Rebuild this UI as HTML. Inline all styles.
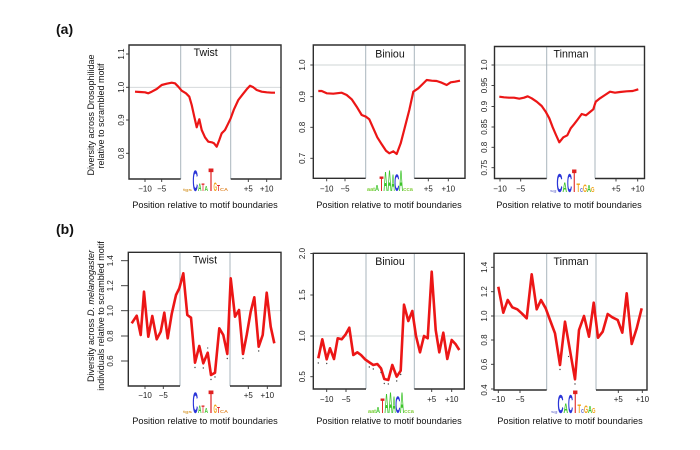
<!DOCTYPE html>
<html><head><meta charset="utf-8"><style>
html,body{margin:0;padding:0;background:#fff;}
svg{display:block;font-family:"Liberation Sans",Arial,sans-serif;}
.bx{fill:none;stroke:#2e2e2e;stroke-width:1.4;}
.gl{stroke:#cfd4d6;stroke-width:0.9;}
.bl{stroke:#a9b5bd;stroke-width:1;}
.tk{stroke:#333;stroke-width:0.9;}
.c1{fill:none;stroke:#ec1616;stroke-width:2.2;stroke-linejoin:round;}
.c2{fill:none;stroke:#ec1616;stroke-width:2.6;stroke-linejoin:round;}
.tl{font-size:8px;fill:#222;text-anchor:middle;}
.xl{font-size:9.2px;fill:#111;text-anchor:middle;}
.yl{font-size:9px;fill:#111;text-anchor:middle;}
.tt{font-size:10.6px;fill:#111;text-anchor:middle;}
.lg text{font-weight:bold;}
</style></head><body>
<svg width="700" height="450" viewBox="0 0 700 450" xmlns="http://www.w3.org/2000/svg">
<rect width="700" height="450" fill="#fff"/>
<text x="56" y="34" font-size="14" font-weight="bold" fill="#111">(a)</text>
<text x="56" y="234" font-size="14" font-weight="bold" fill="#111">(b)</text>

<!-- Y labels row a -->
<text class="yl" transform="translate(94,115) rotate(-90)">Diversity across Drosophilidae</text>
<text class="yl" transform="translate(104,116) rotate(-90)">relative to scrambled motif</text>
<!-- Y labels row b -->
<text class="yl" transform="translate(94,316) rotate(-90)">Diversity across <tspan font-style="italic">D. melanogaster</tspan></text>
<text class="yl" transform="translate(104,316) rotate(-90)">individuals relative to scrambled motif</text>

<!-- ===== Twist (a) ===== -->
<line class="gl" x1="129" y1="87.3" x2="281" y2="87.3"/>
<line class="bl" x1="180.7" y1="45" x2="180.7" y2="179"/>
<line class="bl" x1="230.7" y1="45" x2="230.7" y2="179"/>
<path class="bx" d="M180.7,179 H129 V45 H281 V179 H230.7"/>
<text class="tt" x="205.7" y="56">Twist</text>
<g class="tk"><line x1="129" y1="54" x2="126" y2="54"/><line x1="129" y1="87.3" x2="126" y2="87.3"/><line x1="129" y1="120" x2="126" y2="120"/><line x1="129" y1="153.3" x2="126" y2="153.3"/>
<line x1="145" y1="179" x2="145" y2="182"/><line x1="161.7" y1="179" x2="161.7" y2="182"/><line x1="248.3" y1="179" x2="248.3" y2="182"/><line x1="266.7" y1="179" x2="266.7" y2="182"/></g>
<g class="tl"><text transform="translate(124,54) rotate(-90)">1.1</text><text transform="translate(124,87.3) rotate(-90)">1.0</text><text transform="translate(124,120) rotate(-90)">0.9</text><text transform="translate(124,153.3) rotate(-90)">0.8</text>
<text x="145" y="191.5">−10</text><text x="161.7" y="191.5">−5</text><text x="248.3" y="191.5">+5</text><text x="266.7" y="191.5">+10</text></g>
<polyline class="c1" points="135,91.7 140,92 145,92.3 148.3,93.3 151.7,91.7 156.7,89 161.7,85 166.7,83.7 171.7,82.7 175,83.3 178.3,86.7 181.7,90.7 186,93.3 189.3,96.7 191.7,105 194.3,116.7 196.7,127.3 199.3,119.3 201.7,130 205,137.3 208.3,141.7 211.7,142.3 214,143.3 216.7,146.7 219.3,140 221.7,133.3 225,130 228.3,123.3 230.7,118.3 234,109.3 238.3,100 242.7,94.3 246.7,89.3 250,85.7 253.3,87.3 256.7,90 261.7,91.7 266.7,92.3 271.7,92.7 275,92.7"/>
<text class="xl" x="205" y="208">Position relative to motif boundaries</text>

<!-- ===== Biniou (a) ===== -->
<line class="gl" x1="313.3" y1="65" x2="465" y2="65"/>
<line class="bl" x1="365.7" y1="45" x2="365.7" y2="178.3"/>
<line class="bl" x1="414.3" y1="45" x2="414.3" y2="178.3"/>
<path class="bx" d="M365.7,178.3 H313.3 V45 H465 V178.3 H414.3"/>
<text class="tt" x="390" y="57.3">Biniou</text>
<g class="tk"><line x1="313.3" y1="65" x2="310.3" y2="65"/><line x1="313.3" y1="96.7" x2="310.3" y2="96.7"/><line x1="313.3" y1="127.3" x2="310.3" y2="127.3"/><line x1="313.3" y1="158.3" x2="310.3" y2="158.3"/>
<line x1="326.7" y1="178.3" x2="326.7" y2="181.3"/><line x1="345" y1="178.3" x2="345" y2="181.3"/><line x1="428.3" y1="178.3" x2="428.3" y2="181.3"/><line x1="448.3" y1="178.3" x2="448.3" y2="181.3"/></g>
<g class="tl"><text transform="translate(305,65) rotate(-90)">1.0</text><text transform="translate(305,96.7) rotate(-90)">0.9</text><text transform="translate(305,127.3) rotate(-90)">0.8</text><text transform="translate(305,158.3) rotate(-90)">0.7</text>
<text x="326.7" y="191.5">−10</text><text x="345" y="191.5">−5</text><text x="428.3" y="191.5">+5</text><text x="448.3" y="191.5">+10</text></g>
<polyline class="c1" points="318.3,91 321.7,91 326.7,93.3 333.3,93.7 341.7,92.7 346.7,95 351.7,99.3 356.7,106.7 361.7,115 366,116.7 369.3,119.3 373.3,128.3 377.3,137.3 381.7,144.3 386,150.7 389.3,153.3 393.3,151.3 396.7,154 400.7,143.3 405,126.7 409.3,110 413.3,91.7 418.3,88.3 422.7,84 426.7,80 431.7,80.7 436.7,81 441.7,82.7 446.7,85 450.7,82.3 455,81.7 460,80.7"/>
<text class="xl" x="389" y="208">Position relative to motif boundaries</text>

<!-- ===== Tinman (a) ===== -->
<line class="gl" x1="494.5" y1="65" x2="644.5" y2="65"/>
<line class="bl" x1="546.7" y1="46.5" x2="546.7" y2="178.5"/>
<line class="bl" x1="595" y1="46.5" x2="595" y2="178.5"/>
<path class="bx" d="M546.7,178.5 H494.5 V46.5 H644.5 V178.5 H595"/>
<text class="tt" x="571" y="57.3">Tinman</text>
<g class="tk"><line x1="494.5" y1="65" x2="491.5" y2="65"/><line x1="494.5" y1="85.5" x2="491.5" y2="85.5"/><line x1="494.5" y1="106.5" x2="491.5" y2="106.5"/><line x1="494.5" y1="127" x2="491.5" y2="127"/><line x1="494.5" y1="147.3" x2="491.5" y2="147.3"/><line x1="494.5" y1="167.7" x2="491.5" y2="167.7"/>
<line x1="500" y1="178.5" x2="500" y2="181.5"/><line x1="520.7" y1="178.5" x2="520.7" y2="181.5"/><line x1="616" y1="178.5" x2="616" y2="181.5"/><line x1="637.7" y1="178.5" x2="637.7" y2="181.5"/></g>
<g class="tl"><text transform="translate(487,65) rotate(-90)">1.0</text><text transform="translate(487,85.5) rotate(-90)">0.95</text><text transform="translate(487,106.5) rotate(-90)">0.9</text><text transform="translate(487,127) rotate(-90)">0.85</text><text transform="translate(487,147.3) rotate(-90)">0.8</text><text transform="translate(487,167.7) rotate(-90)">0.75</text>
<text x="500" y="191.5">−10</text><text x="520.7" y="191.5">−5</text><text x="616" y="191.5">+5</text><text x="637.7" y="191.5">+10</text></g>
<polyline class="c1" points="499.3,96.7 504,97.3 509.3,97.7 514,97.7 519.3,98.7 524,97.7 527.7,96.3 531.7,98.3 536.7,101.7 541.7,106 545.7,111.7 549.3,118.3 552.7,127.3 556,135 559.3,142.3 563.3,137.3 567.3,135.3 570.7,128.3 574,124.3 577.3,120 581.7,114 586,115.3 590,112 593.3,109.3 595.7,101.7 600,98.3 605,95 610,91.7 615,92.7 620,92 626.7,91.3 632.7,91 638.3,89.3"/>
<text class="xl" x="569" y="208">Position relative to motif boundaries</text>

<!-- ===== Twist (b) ===== -->
<line class="gl" x1="128.3" y1="310.7" x2="281" y2="310.7"/>
<line class="bl" x1="180" y1="252.3" x2="180" y2="386"/>
<line class="bl" x1="230" y1="252.3" x2="230" y2="386"/>
<path class="bx" d="M180,386 H128.3 V252.3 H281 V386 H230"/>
<text class="tt" x="205" y="263.3">Twist</text>
<g class="tk"><line x1="128.3" y1="260.7" x2="121" y2="260.7"/><line x1="128.3" y1="285.7" x2="121" y2="285.7"/><line x1="128.3" y1="310.7" x2="121" y2="310.7"/><line x1="128.3" y1="336" x2="121" y2="336"/><line x1="128.3" y1="361" x2="121" y2="361"/>
<line x1="145" y1="386" x2="145" y2="389"/><line x1="163.3" y1="386" x2="163.3" y2="389"/><line x1="248.3" y1="386" x2="248.3" y2="389"/><line x1="267.3" y1="386" x2="267.3" y2="389"/></g>
<g class="tl"><text transform="translate(113,260.7) rotate(-90)">1.4</text><text transform="translate(113,285.7) rotate(-90)">1.2</text><text transform="translate(113,310.7) rotate(-90)">1.0</text><text transform="translate(113,336) rotate(-90)">0.8</text><text transform="translate(113,361) rotate(-90)">0.6</text>
<text x="145" y="398">−10</text><text x="163.3" y="398">−5</text><text x="248.3" y="398">+5</text><text x="267.3" y="398">+10</text></g>
<polyline class="c2" points="131.7,323.3 136.7,315.7 140.7,335 144,291.7 148.3,336.7 152.3,316 156.7,339.3 160.7,331.7 164.3,312.7 167.7,338.3 171.7,314 176,295 179.3,288.3 183.3,273.3 187.3,315 191,317.7 195,362.7 199.3,346 203.3,363.3 207.7,352.7 211,375 215,372.7 219.3,328.3 223.3,335 227.3,354 230.7,278.3 235,316.7 239,310 243,354 246.7,335 250.7,311.7 254.3,297.3 258.7,346.7 262.7,335 266.7,292.7 270.7,326.7 274.3,343.3"/>
<g fill="#444"><circle cx="195" cy="367.5" r="0.7"/><circle cx="203.3" cy="368" r="0.7"/><circle cx="211" cy="379.5" r="0.7"/><circle cx="215" cy="377" r="0.7"/><circle cx="227.3" cy="358.5" r="0.7"/><circle cx="243" cy="358.5" r="0.7"/><circle cx="258.7" cy="351" r="0.7"/><circle cx="207.7" cy="348" r="0.6"/></g>
<text class="xl" x="205" y="424">Position relative to motif boundaries</text>

<!-- ===== Biniou (b) ===== -->
<line class="gl" x1="313.3" y1="336" x2="464.3" y2="336"/>
<line class="bl" x1="366" y1="253.3" x2="366" y2="389"/>
<line class="bl" x1="414.3" y1="253.3" x2="414.3" y2="389"/>
<path class="bx" d="M366,389 H313.3 V253.3 H464.3 V389 H414.3"/>
<text class="tt" x="390" y="265">Biniou</text>
<g class="tk"><line x1="313.3" y1="253.5" x2="310.3" y2="253.5"/><line x1="313.3" y1="295" x2="310.3" y2="295"/><line x1="313.3" y1="336" x2="310.3" y2="336"/><line x1="313.3" y1="376.7" x2="310.3" y2="376.7"/>
<line x1="326.7" y1="389" x2="326.7" y2="392"/><line x1="346" y1="389" x2="346" y2="392"/><line x1="431.7" y1="389" x2="431.7" y2="392"/><line x1="451.7" y1="389" x2="451.7" y2="392"/></g>
<g class="tl"><text transform="translate(305,253.5) rotate(-90)">2.0</text><text transform="translate(305,295) rotate(-90)">1.5</text><text transform="translate(305,336) rotate(-90)">1.0</text><text transform="translate(305,376.7) rotate(-90)">0.5</text>
<text x="326.7" y="402">−10</text><text x="346" y="402">−5</text><text x="431.7" y="402">+5</text><text x="451.7" y="402">+10</text></g>
<polyline class="c2" points="318.3,358.3 322.3,339.3 326.7,359.3 330,348.3 334,359 337.7,338.3 341.7,339.3 345.7,334.3 349.3,327.7 353.3,355 357.3,352.3 361,355 365,359.3 369.3,362.3 373.3,365 377.3,364 381,368.3 384.3,379 388.3,380 392.3,365 396.7,376.7 400.7,370.7 404,304.7 408.3,321 412.3,311 416,336 420,352.3 424,336 427.7,338.3 431.7,271.7 435.7,330 439.3,352.3 443.3,332.7 447.3,359 451.7,340 455.7,344.3 459.3,350"/>
<g fill="#444"><circle cx="318.3" cy="363" r="0.7"/><circle cx="326.7" cy="363.5" r="0.7"/><circle cx="369.3" cy="367" r="0.7"/><circle cx="373.3" cy="369" r="0.7"/><circle cx="381" cy="372.5" r="0.7"/><circle cx="384.3" cy="383.5" r="0.7"/><circle cx="388.3" cy="384" r="0.7"/><circle cx="396.7" cy="381" r="0.7"/><circle cx="400.7" cy="374.5" r="0.7"/></g>
<text class="xl" x="389" y="424">Position relative to motif boundaries</text>

<!-- ===== Tinman (b) ===== -->
<line class="gl" x1="494" y1="316" x2="647" y2="316"/>
<line class="bl" x1="546.7" y1="253.3" x2="546.7" y2="390"/>
<line class="bl" x1="596" y1="253.3" x2="596" y2="390"/>
<path class="bx" d="M546.7,390 H494 V253.3 H647 V390 H596"/>
<text class="tt" x="571" y="265">Tinman</text>
<g class="tk"><line x1="494" y1="267.3" x2="491" y2="267.3"/><line x1="494" y1="291.7" x2="491" y2="291.7"/><line x1="494" y1="316" x2="491" y2="316"/><line x1="494" y1="340" x2="491" y2="340"/><line x1="494" y1="364.3" x2="491" y2="364.3"/><line x1="494" y1="389" x2="491" y2="389"/>
<line x1="498.3" y1="390" x2="498.3" y2="393"/><line x1="520" y1="390" x2="520" y2="393"/><line x1="618.3" y1="390" x2="618.3" y2="393"/><line x1="642.3" y1="390" x2="642.3" y2="393"/></g>
<g class="tl"><text transform="translate(487,267.3) rotate(-90)">1.4</text><text transform="translate(487,291.7) rotate(-90)">1.2</text><text transform="translate(487,316) rotate(-90)">1.0</text><text transform="translate(487,340) rotate(-90)">0.8</text><text transform="translate(487,364.3) rotate(-90)">0.6</text><text transform="translate(487,390) rotate(-90)">0.4</text>
<text x="498.3" y="402">−10</text><text x="520" y="402">−5</text><text x="618.3" y="402">+5</text><text x="642.3" y="402">+10</text></g>
<polyline class="c2" points="498.3,286.7 503.3,312.7 507.7,300 512.3,307.3 517.3,309.3 521.7,313.3 526.7,318.3 531.7,274.3 536.7,309.3 541,300 545.7,308.3 550,320 555,333.3 560,365 565,321.7 575,379.3 579,330 584,316 589,336.7 593.7,302.7 598,337.7 602.7,331.7 607.7,314 612.3,317.3 617.7,320 622.3,332.7 626.7,293.3 631.7,344 636.7,328.3 641.7,308.3"/>
<g fill="#444"><circle cx="560" cy="369.5" r="0.7"/><circle cx="568.5" cy="356.5" r="0.6"/><circle cx="575" cy="384" r="0.7"/></g>
<text class="xl" x="570" y="424">Position relative to motif boundaries</text>

<!-- ===== Logos row a ===== -->
<g class="lg" id="lgTa">
<text x="183" y="191" font-size="4" textLength="9" lengthAdjust="spacingAndGlyphs" fill="#d9a040">tgs</text>
<text x="192.5" y="191" font-size="30" textLength="5.5" lengthAdjust="spacingAndGlyphs" fill="#2a35d8">C</text>
<text x="198" y="191" font-size="11" textLength="3.5" lengthAdjust="spacingAndGlyphs" fill="#3cc42a">A</text>
<text x="201.5" y="191" font-size="11" textLength="3" lengthAdjust="spacingAndGlyphs" fill="#e02020">T</text>
<text x="204.5" y="191" font-size="7" textLength="3.5" lengthAdjust="spacingAndGlyphs" fill="#3cc42a">A</text>
<text x="208.5" y="191" font-size="32" textLength="5" lengthAdjust="spacingAndGlyphs" fill="#e02020">T</text>
<text x="213.5" y="191" font-size="12" textLength="3.5" lengthAdjust="spacingAndGlyphs" fill="#f0a010">G</text>
<text x="217" y="191" font-size="8" textLength="3" lengthAdjust="spacingAndGlyphs" fill="#e02020">T</text>
<text x="220" y="191" font-size="4.5" textLength="8" lengthAdjust="spacingAndGlyphs" fill="#e08a30">CA</text>
</g>
<g class="lg">
<text x="367" y="191" font-size="5" textLength="8" lengthAdjust="spacingAndGlyphs" fill="#7ccf3a">aat</text>
<text x="375" y="191" font-size="8" textLength="4" lengthAdjust="spacingAndGlyphs" fill="#3cc42a">A</text>
<text x="379.5" y="191" font-size="21" textLength="4" lengthAdjust="spacingAndGlyphs" fill="#e02020">T</text>
<text x="383.5" y="191" font-size="28" textLength="4" lengthAdjust="spacingAndGlyphs" fill="#3cc42a">A</text>
<text x="387.5" y="191" font-size="30" textLength="4" lengthAdjust="spacingAndGlyphs" fill="#3cc42a">A</text>
<text x="391.3" y="191" font-size="24" textLength="3.5" lengthAdjust="spacingAndGlyphs" fill="#3cc42a">A</text>
<text x="394.3" y="191" font-size="24" textLength="5" lengthAdjust="spacingAndGlyphs" fill="#2a35d8">C</text>
<text x="399" y="191" font-size="30" textLength="4" lengthAdjust="spacingAndGlyphs" fill="#3cc42a">A</text>
<text x="403" y="191" font-size="5" textLength="10" lengthAdjust="spacingAndGlyphs" fill="#8bd04a">cca</text>
</g>
<g class="lg">
<text x="550" y="192" font-size="4" textLength="6.5" lengthAdjust="spacingAndGlyphs" fill="#8b8fd8">sg</text>
<text x="556.5" y="192" font-size="26" textLength="6" lengthAdjust="spacingAndGlyphs" fill="#2a35d8">C</text>
<text x="562.5" y="192" font-size="14" textLength="4.5" lengthAdjust="spacingAndGlyphs" fill="#3cc42a">A</text>
<text x="567" y="192" font-size="26" textLength="5" lengthAdjust="spacingAndGlyphs" fill="#2a35d8">C</text>
<text x="572" y="192" font-size="32" textLength="4.5" lengthAdjust="spacingAndGlyphs" fill="#e02020">T</text>
<text x="576.5" y="192" font-size="12" textLength="3.5" lengthAdjust="spacingAndGlyphs" fill="#f0a010">T</text>
<text x="580" y="192" font-size="7" textLength="3" lengthAdjust="spacingAndGlyphs" fill="#6a70d8">c</text>
<text x="583" y="192" font-size="11" textLength="4" lengthAdjust="spacingAndGlyphs" fill="#f0a010">G</text>
<text x="587" y="192" font-size="10" textLength="4" lengthAdjust="spacingAndGlyphs" fill="#3cc42a">A</text>
<text x="591" y="192" font-size="7" textLength="3.5" lengthAdjust="spacingAndGlyphs" fill="#f0a010">G</text>
</g>

<!-- ===== Logos row b ===== -->
<g class="lg" transform="translate(0,222)">
<text x="183" y="191" font-size="4" textLength="9" lengthAdjust="spacingAndGlyphs" fill="#d9a040">tgs</text>
<text x="192.5" y="191" font-size="30" textLength="5.5" lengthAdjust="spacingAndGlyphs" fill="#2a35d8">C</text>
<text x="198" y="191" font-size="11" textLength="3.5" lengthAdjust="spacingAndGlyphs" fill="#3cc42a">A</text>
<text x="201.5" y="191" font-size="11" textLength="3" lengthAdjust="spacingAndGlyphs" fill="#e02020">T</text>
<text x="204.5" y="191" font-size="7" textLength="3.5" lengthAdjust="spacingAndGlyphs" fill="#3cc42a">A</text>
<text x="208.5" y="191" font-size="32" textLength="5" lengthAdjust="spacingAndGlyphs" fill="#e02020">T</text>
<text x="213.5" y="191" font-size="12" textLength="3.5" lengthAdjust="spacingAndGlyphs" fill="#f0a010">G</text>
<text x="217" y="191" font-size="8" textLength="3" lengthAdjust="spacingAndGlyphs" fill="#e02020">T</text>
<text x="220" y="191" font-size="4.5" textLength="8" lengthAdjust="spacingAndGlyphs" fill="#e08a30">CA</text>
</g>
<g class="lg" transform="translate(1,222)">
<text x="367" y="191" font-size="5" textLength="8" lengthAdjust="spacingAndGlyphs" fill="#7ccf3a">aat</text>
<text x="375" y="191" font-size="8" textLength="4" lengthAdjust="spacingAndGlyphs" fill="#3cc42a">A</text>
<text x="379.5" y="191" font-size="21" textLength="4" lengthAdjust="spacingAndGlyphs" fill="#e02020">T</text>
<text x="383.5" y="191" font-size="28" textLength="4" lengthAdjust="spacingAndGlyphs" fill="#3cc42a">A</text>
<text x="387.5" y="191" font-size="30" textLength="4" lengthAdjust="spacingAndGlyphs" fill="#3cc42a">A</text>
<text x="391.3" y="191" font-size="24" textLength="3.5" lengthAdjust="spacingAndGlyphs" fill="#3cc42a">A</text>
<text x="394.3" y="191" font-size="24" textLength="5" lengthAdjust="spacingAndGlyphs" fill="#2a35d8">C</text>
<text x="399" y="191" font-size="30" textLength="4" lengthAdjust="spacingAndGlyphs" fill="#3cc42a">A</text>
<text x="403" y="191" font-size="5" textLength="10" lengthAdjust="spacingAndGlyphs" fill="#8bd04a">cca</text>
</g>
<g class="lg" transform="translate(1,221)">
<text x="550" y="192" font-size="4" textLength="6.5" lengthAdjust="spacingAndGlyphs" fill="#8b8fd8">sg</text>
<text x="556.5" y="192" font-size="26" textLength="6" lengthAdjust="spacingAndGlyphs" fill="#2a35d8">C</text>
<text x="562.5" y="192" font-size="14" textLength="4.5" lengthAdjust="spacingAndGlyphs" fill="#3cc42a">A</text>
<text x="567" y="192" font-size="26" textLength="5" lengthAdjust="spacingAndGlyphs" fill="#2a35d8">C</text>
<text x="572" y="192" font-size="32" textLength="4.5" lengthAdjust="spacingAndGlyphs" fill="#e02020">T</text>
<text x="576.5" y="192" font-size="12" textLength="3.5" lengthAdjust="spacingAndGlyphs" fill="#f0a010">T</text>
<text x="580" y="192" font-size="7" textLength="3" lengthAdjust="spacingAndGlyphs" fill="#6a70d8">c</text>
<text x="583" y="192" font-size="11" textLength="4" lengthAdjust="spacingAndGlyphs" fill="#f0a010">G</text>
<text x="587" y="192" font-size="10" textLength="4" lengthAdjust="spacingAndGlyphs" fill="#3cc42a">A</text>
<text x="591" y="192" font-size="7" textLength="3.5" lengthAdjust="spacingAndGlyphs" fill="#f0a010">G</text>
</g>
</svg>
</body></html>
